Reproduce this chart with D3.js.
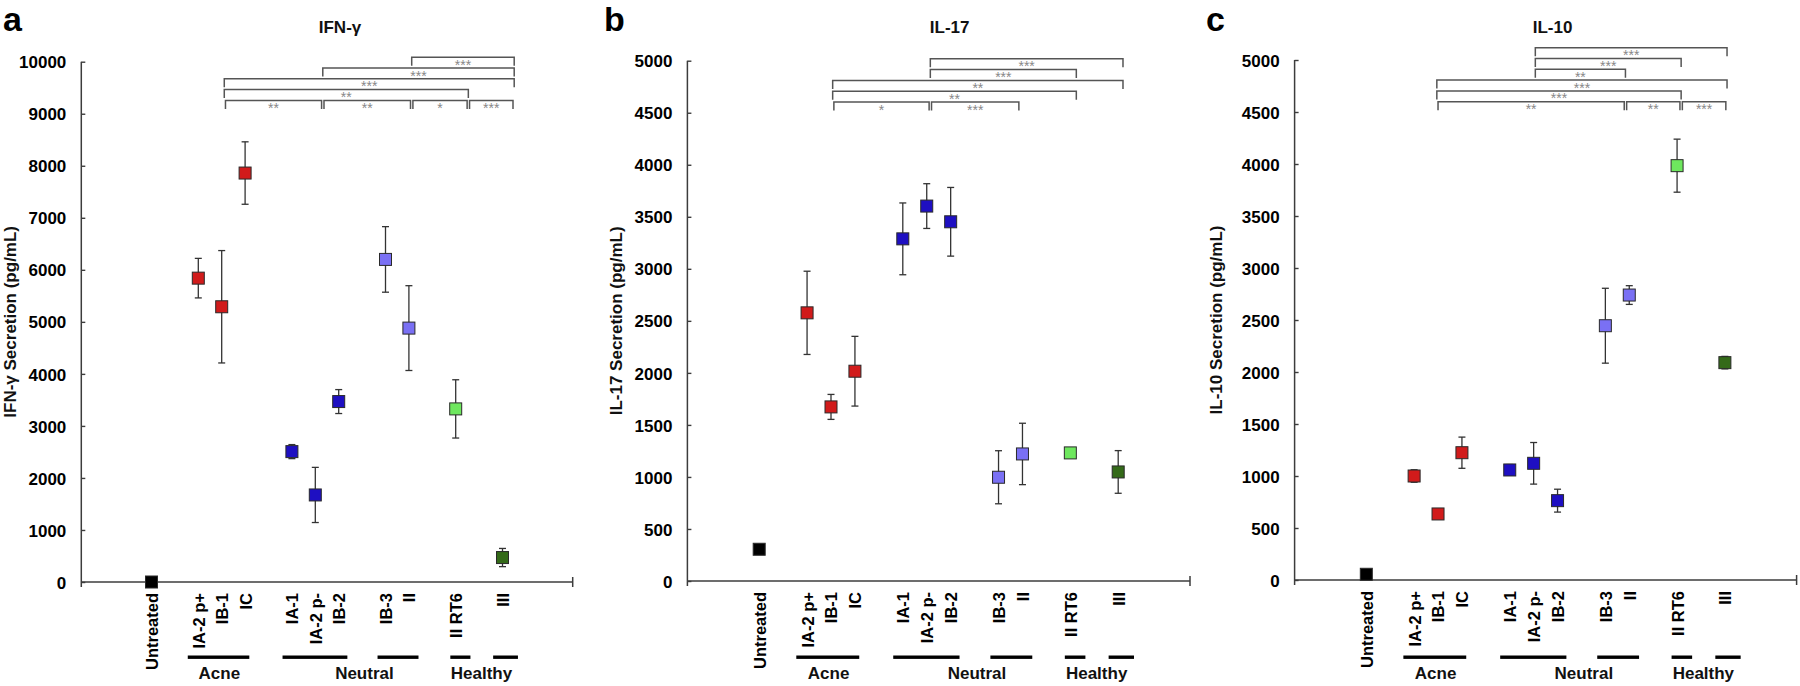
<!DOCTYPE html>
<html><head><meta charset="utf-8">
<script src="https://cdn.jsdelivr.net/npm/d3@7"></script>
<style>
body{margin:0;background:#fff}
svg{display:block;background:#fff}
text{font-family:"Liberation Sans",Arial,Helvetica,sans-serif}
</style>
</head><body>
<svg id="chart" width="1800" height="686"></svg>
<script>
// ---------- data ----------
const categories = ["Untreated","IA-2 p+","IB-1","IC","IA-1","IA-2 p-","IB-2","IB-3","II","II RT6","III"];
const clusterOf  = [0,1,1,1,2,2,2,3,3,4,5];
const clusterColors = ["#000000","#d11b1b","#1e0fc2","#7a70f4","#6ee75e","#346a19"];
const groupNames = ["Acne","Neutral","Healthy"];

const ifnMean  = [0, 5840, 5290, 7860, 2506, 1673, 3468, 6200, 4880, 3327, 470];
const ifnErr   = [0,  380, 1080,  600,  135,  530,  230,  630,  815,  560, 175];
const il17Mean = [305, 2577, 1673, 2016, 3288, 3603, 3452,  997, 1221, 1231, 1048];
const il17Err  = [ 30,  400,  120,  335,  345,  215,  330,  255,  295,   20,  205];
const il10Mean = [ 55, 1000,  635, 1224, 1058, 1122,  763, 2445, 2740, 3984, 2090];
const il10Err  = [ 10,   60,   20,  150,   52,  200,  110,  360,   90,  255,   60];

const ifnTicks = [0,1000,2000,3000,4000,5000,6000,7000,8000,9000,10000];
const ilTicks  = [0,500,1000,1500,2000,2500,3000,3500,4000,4500,5000];

// significance: [fromCluster, toCluster, level, label]
const ifnSig  = [[1,2,0,"**"],[2,3,0,"**"],[3,4,0,"*"],[4,5,0,"***"],[1,4,1,"**"],[1,5,2,"***"],[2,5,3,"***"],[3,5,4,"***"]];
const il17Sig = [[1,2,0,"*"],[2,3,0,"***"],[1,4,1,"**"],[1,5,2,"**"],[2,4,3,"***"],[2,5,4,"***"]];
const il10Sig = [[1,3,0,"**"],[3,4,0,"**"],[4,5,0,"***"],[1,4,1,"***"],[1,5,2,"***"],[2,3,3,"**"],[2,4,4,"***"],[2,5,5,"***"]];

// ---------- layout ----------
const groupBarSpans = [[4.55,7.18],[8.6,11.37],[12.66,14.41],[15.77,16.63],[17.6,18.66]];
const groupLabelPos = [5.9, 12.1, 17.1];
const axisColor = "#3c3c3c";
const FONT = '"Liberation Sans",Arial,Helvetica,sans-serif';

const panels = [
  {letter:"a", title:"IFN-γ", ylabel:"IFN-γ Secretion (pg/mL)", mean:ifnMean, err:ifnErr, ticks:ifnTicks, sig:ifnSig,
   x0:81.3, x1:572.7, y0:582, yTop:61.7, letterX:3, yLabelX:16, titleDx:13, brBase:100.4,
   anchors:[0,6.11,10.32,14.12,16.54,18.5]},
  {letter:"b", title:"IL-17", ylabel:"IL-17 Secretion (pg/mL)", mean:il17Mean, err:il17Err, ticks:ilTicks, sig:il17Sig,
   x0:687.4, x1:1190, y0:581, yTop:60.7, letterX:604, yLabelX:622, titleDx:11, brBase:102,
   anchors:[0,6.07,10.15,13.9,16.25,18.2]},
  {letter:"c", title:"IL-10", ylabel:"IL-10 Secretion (pg/mL)", mean:il10Mean, err:il10Err, ticks:ilTicks, sig:il10Sig,
   x0:1294.6, x1:1796.6, y0:580, yTop:60, letterX:1206, yLabelX:1222, titleDx:7, brBase:101.7,
   anchors:[0,5.95,10.07,13.84,16.17,18.09]}
];

const svg = d3.select("#chart");

panels.forEach(p => {
  const g = svg.append("g");
  const x = d3.scaleLinear().domain([0,21]).range([p.x0,p.x1]);
  const y = d3.scaleLinear().domain([0,d3.max(p.ticks)]).range([p.y0,p.yTop]);
  const slots = categories.map((c,i) => 3 + i + clusterOf[i]);

  // y axis
  const ya = g.append("g").attr("transform",`translate(${p.x0},0)`)
    .call(d3.axisLeft(y).tickValues(p.ticks).tickFormat(d3.format("d"))
      .tickSizeInner(-4).tickSizeOuter(0).tickPadding(15));
  ya.select(".domain").remove();
  ya.selectAll(".tick line").attr("stroke",axisColor).attr("stroke-width",1.4);
  ya.selectAll(".tick text").attr("font-size",17).attr("font-weight","bold").attr("fill","#000")
    .attr("font-family",FONT).attr("dy","0.36em");

  g.append("line").attr("x1",p.x0).attr("x2",p.x0).attr("y1",p.yTop).attr("y2",p.y0+5)
    .attr("stroke",axisColor).attr("stroke-width",1.5);
  g.append("line").attr("x1",p.x0).attr("x2",p.x1).attr("y1",p.y0).attr("y2",p.y0)
    .attr("stroke",axisColor).attr("stroke-width",1.5);
  g.append("line").attr("x1",p.x1).attr("x2",p.x1).attr("y1",p.y0-5).attr("y2",p.y0+5)
    .attr("stroke",axisColor).attr("stroke-width",1.5);

  // x axis category labels
  const xa = g.append("g").attr("transform",`translate(0,${p.y0})`)
    .call(d3.axisBottom(x).tickValues(slots).tickFormat(d => categories[slots.indexOf(d)]).tickSize(0));
  xa.select(".domain").remove();
  xa.selectAll(".tick text").attr("transform","rotate(-90)").attr("x",-11).attr("y",0).attr("dy","0.36em")
    .attr("text-anchor","end").attr("font-size",16.5).attr("font-weight","bold").attr("fill","#000")
    .attr("font-family",FONT);

  // error bars
  const pts = categories.map((c,i) => ({c, i, xs:x(slots[i]), m:p.mean[i], e:p.err[i], col:clusterColors[clusterOf[i]]}));
  const eb = g.append("g").attr("stroke","#333").attr("stroke-width",1.3);
  pts.filter(d => d.e > 0).forEach(d => {
    eb.append("line").attr("x1",d.xs).attr("x2",d.xs).attr("y1",y(d.m+d.e)).attr("y2",y(d.m-d.e));
    eb.append("line").attr("x1",d.xs-3.5).attr("x2",d.xs+3.5).attr("y1",y(d.m+d.e)).attr("y2",y(d.m+d.e));
    eb.append("line").attr("x1",d.xs-3.5).attr("x2",d.xs+3.5).attr("y1",y(d.m-d.e)).attr("y2",y(d.m-d.e));
  });
  // markers
  g.append("g").selectAll("rect").data(pts).join("rect")
    .attr("x",d => d.xs-6).attr("y",d => y(d.m)-6).attr("width",12).attr("height",12)
    .attr("fill",d => d.col).attr("stroke","#2a2a2a").attr("stroke-width",1);

  // group bars and labels
  g.append("g").selectAll("rect").data(groupBarSpans).join("rect")
    .attr("x",d => x(d[0])).attr("width",d => x(d[1])-x(d[0]))
    .attr("y",655.5).attr("height",3.4).attr("fill","#000");
  g.append("g").selectAll("text").data(groupNames).join("text")
    .attr("x",(d,i) => x(groupLabelPos[i])).attr("y",679).attr("text-anchor","middle")
    .attr("font-size",17).attr("font-weight","bold").attr("fill","#111").text(d => d);

  // significance brackets
  const step = 10.8, tick = 8.5;
  const br = g.append("g");
  p.sig.forEach(s => {
    const ly = p.brBase - s[2]*step;
    const shrink = s[2] === 0 ? 1.2 : 0;
    const xa1 = x(p.anchors[s[0]]) + shrink, xb1 = x(p.anchors[s[1]]) - shrink;
    br.append("path").attr("d",`M${xa1},${ly+tick}V${ly}H${xb1}V${ly+tick}`)
      .attr("fill","none").attr("stroke","#555").attr("stroke-width",1.5);
    br.append("text").attr("x",(xa1+xb1)/2).attr("y",ly+12.5).attr("text-anchor","middle")
      .attr("font-size",14).attr("fill","#888").text(s[3]);
  });

  // titles, letters, y label
  svg.append("text").attr("x",(p.x0+p.x1)/2 + p.titleDx).attr("y",33).attr("text-anchor","middle")
    .attr("font-size",17).attr("font-weight","bold").attr("fill","#111").text(p.title);
  svg.append("text").attr("x",p.letterX).attr("y",31).attr("font-size",34).attr("font-weight","bold")
    .attr("fill","#000").text(p.letter);
  svg.append("text").attr("transform",`translate(${p.yLabelX},${(p.y0+p.yTop)/2}) rotate(-90)`)
    .attr("text-anchor","middle").attr("font-size",17).attr("font-weight","bold").attr("fill","#111")
    .text(p.ylabel);
});
</script>
</body></html>
